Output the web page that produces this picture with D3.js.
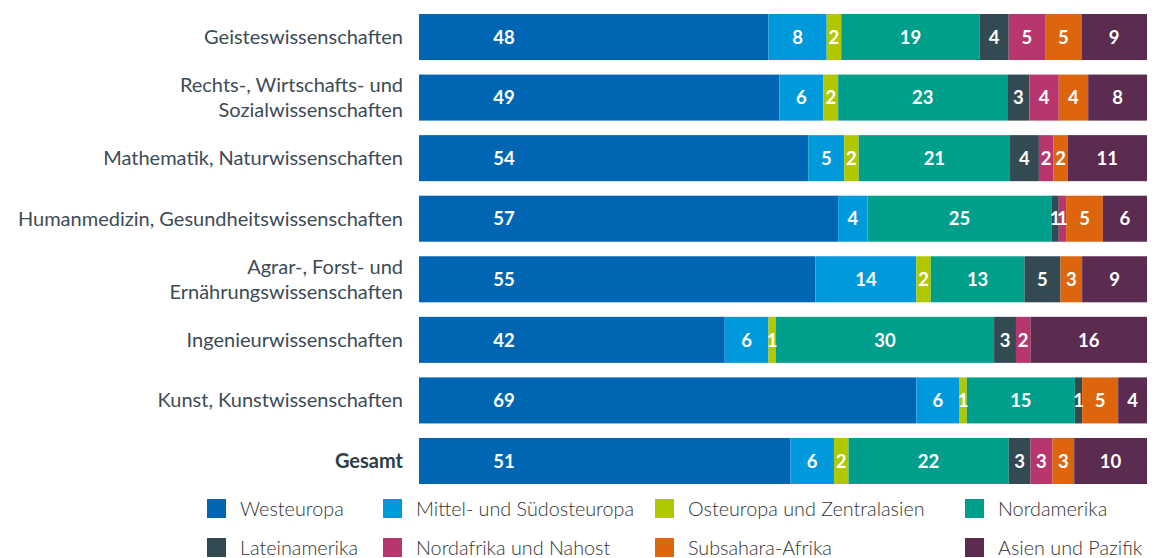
<!DOCTYPE html>
<html>
<head>
<meta charset="utf-8">
<script src="https://cdn.jsdelivr.net/npm/d3@7"></script>
<style>
  body { margin: 0; background: #fff; }
  svg { display: block; font-family: "Lato", "Open Sans", sans-serif; }
</style>
</head>
<body>
<div id="chart"></div>
<script>
// Fachbereiche (Zeilen), Zeilenumbruch mit "|"
const faecher = [
    "Geisteswissenschaften",
    "Rechts-, Wirtschafts- und|Sozialwissenschaften",
    "Mathematik, Naturwissenschaften",
    "Humanmedizin, Gesundheitswissenschaften",
    "Agrar-, Forst- und|Ernährungswissenschaften",
    "Ingenieurwissenschaften",
    "Kunst, Kunstwissenschaften",
    "Gesamt"
];

const regionen = [
    "Westeuropa", "Mittel- und Südosteuropa", "Osteuropa und Zentralasien", "Nordamerika",
    "Lateinamerika", "Nordafrika und Nahost", "Subsahara-Afrika", "Asien und Pazifik"
];

const farben = ["#0066b3", "#0099dc", "#b1c800", "#009f8c", "#334a52", "#b7366e", "#dc650e", "#5b2b50"];

// Anteile in %, je Region (gleiche Reihenfolge wie faecher)
const westeuropa   = [48, 49, 54, 57, 55, 42, 69, 51];
const mitteleuropa = [8, 6, 5, 4, 14, 6, 6, 6];
const osteuropa    = [2, 2, 2, 0, 2, 1, 1, 2];
const nordamerika  = [19, 23, 21, 25, 13, 30, 15, 22];
const lateinamerika = [4, 3, 4, 1, 5, 3, 1, 3];
const nordafrika   = [5, 4, 2, 1, 0, 2, 0, 3];
const subsahara    = [5, 4, 2, 5, 3, 0, 5, 3];
const asien        = [9, 8, 11, 6, 9, 16, 4, 10];

const serien = [westeuropa, mitteleuropa, osteuropa, nordamerika, lateinamerika, nordafrika, subsahara, asien];

const width = 1154, height = 558;
const x0 = 419, x1 = 1147;

const svg = d3.select("#chart")
    .append("svg")
    .attr("width", width)
    .attr("height", height);

const y = d3.scaleBand()
    .domain(faecher)
    .range([14, 484])
    .paddingInner(0.24)
    .paddingOuter(0);

const color = d3.scaleOrdinal().domain(regionen).range(farben);

// Zeilen aufbauen (gerundete Werte -> auf Zeilensumme normiert)
const rows = faecher.map(function (f, i) {
    const vals = serien.map(s => s[i]);
    const total = d3.sum(vals);
    const x = d3.scaleLinear().domain([0, total]).range([x0, x1]);
    let acc = 0;
    const segs = vals.map(function (v, j) {
        const s = { fach: f, region: regionen[j], value: v, start: acc, end: acc + v, x: x, idx: j };
        acc += v;
        return s;
    });
    return { fach: f, segs: segs };
});

const row = svg.append("g")
    .selectAll("g")
    .data(rows)
    .enter().append("g")
    .attr("transform", d => "translate(0," + y(d.fach) + ")");

row.selectAll("rect")
    .data(d => d.segs.filter(s => s.value > 0))
    .enter().append("rect")
    .attr("x", d => d.x(d.start))
    .attr("width", d => d.x(d.end) - d.x(d.start))
    .attr("height", y.bandwidth())
    .attr("fill", d => color(d.region));

row.selectAll("text.val")
    .data(d => d.segs.filter(s => s.value > 0))
    .enter().append("text")
    .attr("class", "val")
    .attr("x", d => d.idx === 0 ? x0 + 85 : (d.x(d.start) + d.x(d.end)) / 2)
    .attr("y", y.bandwidth() / 2)
    .attr("dy", "0.36em")
    .attr("text-anchor", "middle")
    .attr("fill", "#fff")
    .attr("font-weight", "bold")
    .attr("font-size", 18.5)
    .text(d => d.value);

// Kategorienbeschriftung
const labels = svg.append("g")
    .selectAll("text")
    .data(faecher)
    .enter().append("text")
    .attr("x", 403)
    .attr("y", d => y(d) + y.bandwidth() / 2)
    .attr("text-anchor", "end")
    .attr("fill", d => d === "Gesamt" ? "#2f3d48" : "#3d4b56")
    .attr("font-size", 20)
    .attr("font-weight", d => d === "Gesamt" ? "bold" : "normal");

labels.each(function (d) {
    const lines = d.split("|");
    const t = d3.select(this);
    lines.forEach(function (l, k) {
        t.append("tspan")
            .attr("x", 403)
            .attr("dy", k === 0 ? (0.35 - (lines.length - 1) * 0.62) + "em" : "1.25em")
            .text(l);
    });
});

// Legende
const legX = [207, 383, 655, 965];
const legY = [509, 548];

const leg = svg.append("g")
    .selectAll("g")
    .data(regionen)
    .enter().append("g")
    .attr("transform", (d, i) => "translate(" + legX[i % 4] + "," + legY[Math.floor(i / 4)] + ")");

leg.append("rect")
    .attr("y", -10)
    .attr("width", 19)
    .attr("height", 19)
    .attr("fill", d => color(d));

leg.append("text")
    .attr("x", 33)
    .attr("dy", "0.35em")
    .attr("fill", "#333")
    .attr("font-size", 19.8)
    .attr("font-weight", 300)
    .text(d => d);
</script>
</body>
</html>
